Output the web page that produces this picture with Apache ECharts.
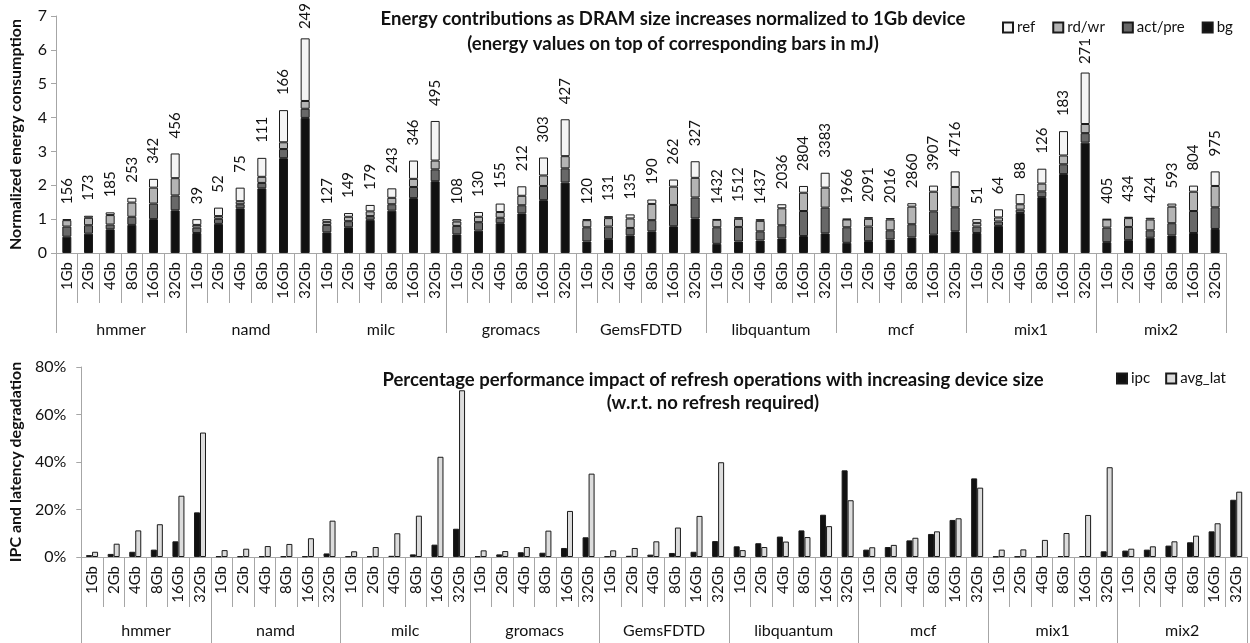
<!DOCTYPE html>
<html>
<head>
<meta charset="utf-8">
<script src="https://cdn.jsdelivr.net/npm/echarts@6/dist/echarts.min.js"></script>
<style>
  html, body { margin: 0; padding: 0; background: #fff; }
  #main { width: 1250px; height: 643px; }
</style>
</head>
<body>
<div id="main"></div>
<script>
const sizes = ['1Gb', '2Gb', '4Gb', '8Gb', '16Gb', '32Gb']
const workloads = ['hmmer', 'namd', 'milc', 'gromacs', 'GemsFDTD', 'libquantum', 'mcf', 'mix1', 'mix2']

// normalized energy parts, 6 sizes per workload
const bg = [
  0.48, 0.57, 0.70, 0.83, 1.00, 1.26,
  0.59, 0.86, 1.32, 1.91, 2.80, 3.99,
  0.61, 0.76, 0.98, 1.25, 1.62, 2.12,
  0.55, 0.66, 0.88, 1.17, 1.56, 2.08,
  0.34, 0.41, 0.52, 0.64, 0.79, 1.02,
  0.27, 0.34, 0.37, 0.43, 0.50, 0.58,
  0.30, 0.35, 0.40, 0.46, 0.54, 0.64,
  0.59, 0.80, 1.18, 1.65, 2.33, 3.26,
  0.32, 0.38, 0.45, 0.52, 0.59, 0.71
]
const actPre = [
  0.30, 0.25, 0.14, 0.24, 0.46, 0.44,
  0.16, 0.15, 0.12, 0.16, 0.27, 0.27,
  0.22, 0.18, 0.11, 0.19, 0.33, 0.35,
  0.25, 0.25, 0.16, 0.24, 0.42, 0.42,
  0.42, 0.37, 0.22, 0.33, 0.63, 0.62,
  0.49, 0.43, 0.27, 0.39, 0.74, 0.76,
  0.46, 0.43, 0.27, 0.39, 0.69, 0.71,
  0.19, 0.13, 0.10, 0.17, 0.29, 0.28,
  0.43, 0.39, 0.22, 0.36, 0.65, 0.64
]
const rdWr = [
  0.19, 0.22, 0.28, 0.42, 0.47, 0.51,
  0.08, 0.08, 0.09, 0.18, 0.20, 0.23,
  0.09, 0.13, 0.14, 0.19, 0.24, 0.26,
  0.13, 0.16, 0.17, 0.28, 0.31, 0.36,
  0.21, 0.25, 0.28, 0.48, 0.54, 0.58,
  0.22, 0.24, 0.31, 0.50, 0.54, 0.59,
  0.23, 0.23, 0.32, 0.52, 0.58, 0.60,
  0.11, 0.12, 0.16, 0.23, 0.26, 0.27,
  0.24, 0.26, 0.32, 0.49, 0.57, 0.63
]
const ref = [
  0.03, 0.06, 0.08, 0.14, 0.26, 0.73,
  0.17, 0.25, 0.40, 0.56, 0.95, 1.85,
  0.08, 0.11, 0.19, 0.28, 0.54, 1.17,
  0.07, 0.14, 0.25, 0.28, 0.53, 1.09,
  0.03, 0.06, 0.12, 0.13, 0.21, 0.49,
  0.02, 0.05, 0.05, 0.12, 0.20, 0.44,
  0.02, 0.05, 0.04, 0.10, 0.18, 0.46,
  0.11, 0.24, 0.30, 0.44, 0.72, 1.52,
  0.01, 0.04, 0.05, 0.09, 0.18, 0.43
]
// energy in mJ printed over each bar
const energyMJ = [
  156, 173, 185, 253, 342, 456,
  39, 52, 75, 111, 166, 249,
  127, 149, 179, 243, 346, 495,
  108, 130, 155, 212, 303, 427,
  120, 131, 135, 190, 262, 327,
  1432, 1512, 1437, 2036, 2804, 3383,
  1966, 2091, 2016, 2860, 3907, 4716,
  51, 64, 88, 126, 183, 271,
  405, 434, 424, 593, 804, 975
]
// degradation in percent
const ipc = [
  0.8, 1.3, 2.2, 3.1, 6.6, 18.8,
  0.3, 0.3, 0.3, 0.3, 0.3, 1.5,
  0.3, 0.3, 0.5, 1.1, 5.2, 11.9,
  0.3, 1.1, 2.0, 1.8, 3.8, 8.3,
  0.3, 0.5, 1.0, 1.7, 2.2, 6.7,
  4.5, 5.8, 8.6, 11.2, 17.8, 36.5,
  3.1, 4.2, 7.0, 9.7, 15.6, 33.1,
  0.2, 0.2, 0.2, 0.4, 0.4, 2.4,
  2.7, 3.1, 4.8, 6.2, 10.8, 24.1
]
const avgLat = [
  2.2, 5.6, 11.2, 13.8, 25.8, 52.4,
  2.9, 3.5, 4.6, 5.5, 7.9, 15.3,
  2.4, 4.2, 10.0, 17.4, 42.2, 70.2,
  2.8, 2.5, 4.2, 11.1, 19.4, 35.1,
  2.8, 3.8, 6.6, 12.4, 17.3, 39.9,
  2.9, 4.2, 6.5, 8.4, 13.0, 23.9,
  4.1, 5.1, 8.1, 10.8, 16.3, 29.2,
  3.1, 3.2, 7.2, 10.1, 17.7, 37.8,
  3.5, 4.5, 6.6, 9.0, 14.2, 27.5
]

const FONT = 'Lato'
const AXIS_GREY = '#a6a6a6'
const LABEL_GAP = 15
const cats = []
workloads.forEach(w => sizes.forEach(s => cats.push(w + '|' + s)))

const chart = echarts.init(document.getElementById('main'), null, { renderer: 'canvas' })

const innerAxis = (gridIndex, labelSize) => ({
  type: 'category',
  gridIndex: gridIndex,
  data: cats,
  position: 'bottom',
  axisLine: { lineStyle: { color: AXIS_GREY, width: 1 } },
  axisTick: { show: true, interval: 0, length: 50, lineStyle: { color: AXIS_GREY } },
  axisLabel: {
    interval: 0, rotate: 90, margin: 9, fontSize: labelSize, fontFamily: FONT, color: '#111',
    formatter: v => v.split('|')[1]
  }
})
const groupAxis = (gridIndex, tickLen, margin) => ({
  type: 'category',
  gridIndex: gridIndex,
  data: workloads,
  position: 'bottom',
  offset: 0,
  axisLine: { show: false },
  axisTick: { show: true, interval: 0, length: tickLen, lineStyle: { color: AXIS_GREY } },
  axisLabel: { interval: 0, margin: margin, fontSize: 16, fontFamily: FONT, color: '#111' }
})
const segStyle = color => ({ color: color, borderColor: '#1a1a1a', borderWidth: 1 })

const energySeries = [
  { name: 'bg', data: bg, color: '#111111' },
  { name: 'act/pre', data: actPre, color: '#686868' },
  { name: 'rd/wr', data: rdWr, color: '#b4b4b4' },
  { name: 'ref', data: ref, color: '#f4f4f4' }
].map((s, i) => ({
  id: 'e' + i,
  name: s.name,
  type: 'bar',
  stack: 'energy',
  xAxisIndex: 0,
  yAxisIndex: 0,
  barWidth: 9,
  data: s.data,
  itemStyle: segStyle(s.color),
  label: i === 3 ? {
    show: true,
    position: 'top',
    distance: LABEL_GAP,
    rotate: 90,
    align: 'left',
    verticalAlign: 'middle',
    fontSize: 15,
    fontFamily: FONT,
    color: '#111',
    formatter: p => energyMJ[p.dataIndex]
  } : { show: false }
}))

const perfSeries = [
  { name: 'ipc', data: ipc, color: '#111111' },
  { name: 'avg_lat', data: avgLat, color: '#dcdcdc' }
].map(s => ({
  name: s.name,
  type: 'bar',
  xAxisIndex: 2,
  yAxisIndex: 1,
  barWidth: 6,
  barGap: '0%',
  data: s.data,
  itemStyle: segStyle(s.color)
}))

const legendText = { fontSize: 15, fontFamily: FONT, color: '#111', padding: [0, 0, 0, -1] }

const option = {
  animation: false,
  backgroundColor: '#fff',
  textStyle: { fontFamily: FONT },
  title: [
    {
      text: 'Energy contributions as DRAM size increases normalized to 1Gb device\n(energy values on top of corresponding bars in mJ)',
      left: 668, top: 2, textAlign: 'center',
      textStyle: { fontSize: 18.5, fontWeight: 'bold', fontFamily: FONT, color: '#111', lineHeight: 25 }
    },
    {
      text: 'Percentage performance impact of refresh operations with increasing device size\n(w.r.t. no refresh required)',
      left: 708, top: 364, textAlign: 'center',
      textStyle: { fontSize: 18.5, fontWeight: 'bold', fontFamily: FONT, color: '#111', lineHeight: 23 }
    }
  ],
  legend: [
    {
      data: ['ref', 'rd/wr', 'act/pre', 'bg'],
      left: 997, top: 15,
      itemWidth: 10, itemHeight: 10, itemGap: 17,
      icon: 'rect',
      textStyle: legendText
    },
    {
      data: ['ipc', 'avg_lat'],
      left: 1111, top: 366,
      itemWidth: 10, itemHeight: 10, itemGap: 15,
      icon: 'rect',
      textStyle: legendText
    }
  ],
  grid: [
    { left: 54, right: 24, top: 16, bottom: 390 },
    { left: 79, right: 3, top: 367, bottom: 86 }
  ],
  xAxis: [
    innerAxis(0, 15),
    groupAxis(0, 80, 69),
    innerAxis(1, 15),
    groupAxis(1, 90, 66)
  ],
  yAxis: [
    {
      type: 'value', gridIndex: 0, min: 0, max: 7, interval: 1,
      name: 'Normalized energy consumption', nameLocation: 'middle', nameGap: 32,
      nameTextStyle: { fontSize: 16, fontWeight: 'bold', fontFamily: FONT, color: '#111' },
      axisLine: { show: true, lineStyle: { color: AXIS_GREY } },
      axisTick: { show: true, length: 5, lineStyle: { color: AXIS_GREY } },
      axisLabel: { fontSize: 16, fontFamily: FONT, color: '#111', margin: 9 },
      splitLine: { show: false }
    },
    {
      type: 'value', gridIndex: 1, min: 0, max: 80, interval: 20,
      name: 'IPC and latency degradation', nameLocation: 'middle', nameGap: 57,
      nameTextStyle: { fontSize: 16, fontWeight: 'bold', fontFamily: FONT, color: '#111' },
      axisLine: { show: true, lineStyle: { color: AXIS_GREY } },
      axisTick: { show: true, length: 5, lineStyle: { color: AXIS_GREY } },
      axisLabel: { fontSize: 16, fontFamily: FONT, color: '#111', margin: 15, formatter: '{value}%' },
      splitLine: { show: false }
    }
  ],
  series: energySeries.concat(perfSeries)
}

chart.setOption(option)

// tall bars: pull the mJ label closer so it stays on the canvas and under the legend
const ctx = document.createElement('canvas').getContext('2d')
ctx.font = '15px ' + FONT
const refData = ref.map((v, i) => {
  const total = bg[i] + actPre[i] + rdWr[i] + ref[i]
  const pt = chart.convertToPixel({ xAxisIndex: 0, yAxisIndex: 0 }, [cats[i], total])
  const len = ctx.measureText(String(energyMJ[i])).width
  const minTop = pt[0] > 985 ? 38 : 3
  const dist = Math.max(0, Math.min(LABEL_GAP, pt[1] - len - minTop))
  return { value: v, label: { distance: dist } }
})
chart.setOption({ series: [{ id: 'e3', data: refData }] })
</script>
</body>
</html>
